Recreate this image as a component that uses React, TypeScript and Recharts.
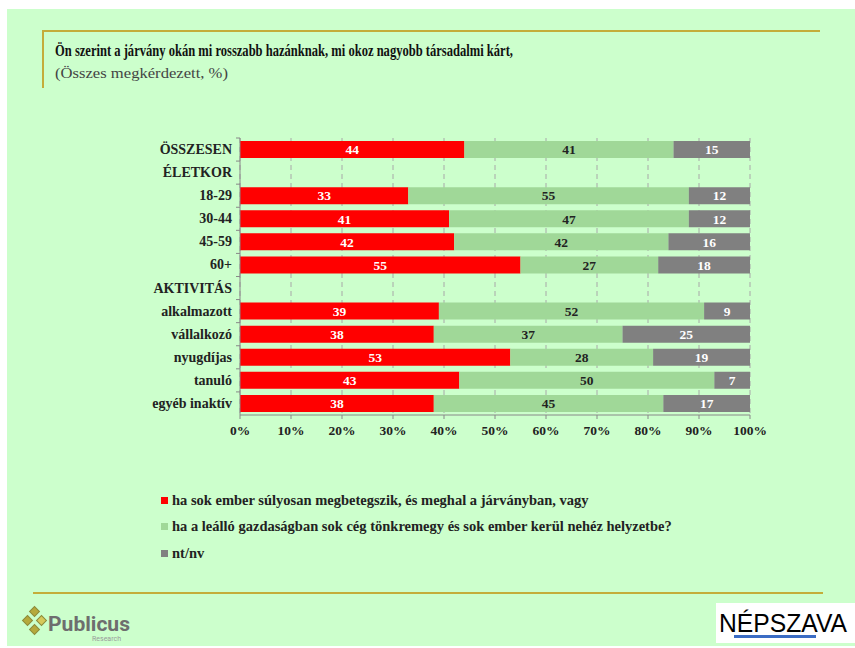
import React from 'react';
import { BarChart, Bar, XAxis, YAxis, CartesianGrid, LabelList, Legend } from 'recharts';

const categories = [
  'ÖSSZESEN', 'ÉLETKOR', '18-29', '30-44', '45-59', '60+',
  'AKTIVITÁS', 'alkalmazott', 'vállalkozó', 'nyugdíjas', 'tanuló', 'egyéb inaktív',
];
const beteg = [44, null, 33, 41, 42, 55, null, 39, 38, 53, 43, 38];
const gazdasag = [41, null, 55, 47, 42, 27, null, 52, 37, 28, 50, 45];
const ntnv = [15, null, 12, 12, 16, 18, null, 9, 25, 19, 7, 17];
const xTicks = [0, 10, 20, 30, 40, 50, 60, 70, 80, 90, 100];

const seriesNames = [
  'ha sok ember súlyosan megbetegszik, és meghal a járványban, vagy',
  'ha a leálló gazdaságban sok cég tönkremegy és sok ember kerül nehéz helyzetbe?',
  'nt/nv',
];
const colors = ['#ff0000', '#a0d898', '#808080'];

const data = categories.map((c, i) => ({
  cat: c,
  a: beteg[i],
  b: gazdasag[i],
  c: ntnv[i],
}));

const serif = '"Liberation Serif", "Times New Roman", "DejaVu Serif", serif';
const gold = '#c4ad3a';

function CatTick(props: any) {
  const { x, y, payload } = props;
  const half = payload.offset ?? 11.5;
  return (
    <g>
      <line x1={x + 4} x2={x + 8} y1={y - half} y2={y - half} stroke="#888" />
      <text x={x} y={y} dy={4.5} textAnchor="end" fontFamily={serif} fontWeight="bold" fontSize={14} fill="#222">
        {payload.value}
      </text>
    </g>
  );
}

function renderLegend() {
  return (
    <div style={{ fontFamily: serif, fontWeight: 'bold', fontSize: 14.5, color: '#222', textAlign: 'left' }}>
      {seriesNames.map((n, i) => (
        <div key={n} style={{ height: 26.5, display: 'flex', alignItems: 'center' }}>
          <span style={{ width: 7, height: 7, background: colors[i], display: 'inline-block', marginRight: 4 }} />
          {n}
        </div>
      ))}
    </div>
  );
}

export default function App() {
  return (
    <div style={{ position: 'absolute', left: 0, top: 0, width: 855, height: 648, background: '#fff', overflow: 'hidden' }}>
      <div style={{ position: 'absolute', left: 7, top: 9, width: 848, height: 637, background: '#ccffcc' }} />
      <div style={{ position: 'absolute', left: 0, top: 0 }}>
        <BarChart
          width={855}
          height={648}
          data={data}
          layout="vertical"
          margin={{ top: 138, right: 105, bottom: 203, left: 10 }}
          barSize={17}
        >
          <CartesianGrid horizontal={false} stroke="#a8a8a8" strokeDasharray="5 4" />
          <XAxis
            type="number"
            domain={[0, 100]}
            ticks={xTicks}
            tickFormatter={(v) => `${v}%`}
            height={30}
            stroke="#888"
            tickSize={4}
            tickMargin={6}
            tick={{ fontFamily: serif, fontWeight: 'bold', fontSize: 13.5, fill: '#222' }}
          />
          <YAxis
            type="category"
            dataKey="cat"
            width={230}
            stroke="#888"
            tickLine={false}
            tick={<CatTick />}
            interval={0}
          />
          <Legend
            layout="horizontal"
            verticalAlign="middle"
            align="center"
            content={renderLegend}
            wrapperStyle={{ position: 'absolute', left: 161, top: 487, width: 620 }}
          />
          <Bar dataKey="a" name={seriesNames[0]} stackId="s" fill={colors[0]} isAnimationActive={false}>
            <LabelList dataKey="a" position="center" fill="#fff" fontFamily={serif} fontWeight="bold" fontSize={13.5} />
          </Bar>
          <Bar dataKey="b" name={seriesNames[1]} stackId="s" fill={colors[1]} isAnimationActive={false}>
            <LabelList dataKey="b" position="center" fill="#222" fontFamily={serif} fontWeight="bold" fontSize={13.5} />
          </Bar>
          <Bar dataKey="c" name={seriesNames[2]} stackId="s" fill={colors[2]} isAnimationActive={false}>
            <LabelList dataKey="c" position="center" fill="#fff" fontFamily={serif} fontWeight="bold" fontSize={13.5} />
          </Bar>
        </BarChart>
      </div>
      <svg width={855} height={648} style={{ position: 'absolute', left: 0, top: 0, pointerEvents: 'none' }}>
        <line x1={43} x2={820} y1={31} y2={31} stroke={gold} strokeWidth={2} />
        <line x1={43} x2={43} y1={30} y2={88} stroke={gold} strokeWidth={2} />
        <line x1={33} x2={823} y1={593} y2={593} stroke={gold} strokeWidth={2} />
        <text x={55} y={56} fontFamily={serif} fontWeight="bold" fontSize={17.5} fill="#111" textLength={458} lengthAdjust="spacingAndGlyphs">
          Ön szerint a járvány okán mi rosszabb hazánknak, mi okoz nagyobb társadalmi kárt,
        </text>
        <text x={55} y={78} fontFamily={serif} fontSize={15} fill="#444" textLength={173} lengthAdjust="spacingAndGlyphs">
          (Összes megkérdezett, %)
        </text>
        {/* Publicus logo */}
        <g>
          <rect x={31} y={608} width={7} height={7} transform="rotate(45 34.5 611.5)" fill="#b5a93c" stroke="#8c8a3a" />
          <rect x={24} y={617} width={7} height={7} transform="rotate(45 27.5 620.5)" fill="#b5a93c" stroke="#8c8a3a" />
          <rect x={38} y={617} width={7} height={7} transform="rotate(45 41.5 620.5)" fill="#d6c85a" stroke="#8c8a3a" />
          <rect x={31} y={626} width={7} height={7} transform="rotate(45 34.5 629.5)" fill="#b5a93c" stroke="#8c8a3a" />
          <text x={48} y={631} fontFamily="Roboto, sans-serif" fontWeight="bold" fontSize={21} fill="#6e6e6e" textLength={82} lengthAdjust="spacingAndGlyphs">
            Publicus
          </text>
          <text x={92} y={641} fontFamily="Roboto, sans-serif" fontSize={7} fill="#9a9a9a">Research</text>
        </g>
        {/* Népszava logo */}
        <g>
          <rect x={716} y={603} width={139} height={40} fill="#fff" />
          <text x={719} y={632} fontFamily='"Liberation Sans", sans-serif' fontSize={26} fill="#000" textLength={128} lengthAdjust="spacingAndGlyphs">
            NÉPSZAVA
          </text>
          <rect x={734} y={635} width={82} height={3} fill="#3b6cc4" />
        </g>
      </svg>
    </div>
  );
}
